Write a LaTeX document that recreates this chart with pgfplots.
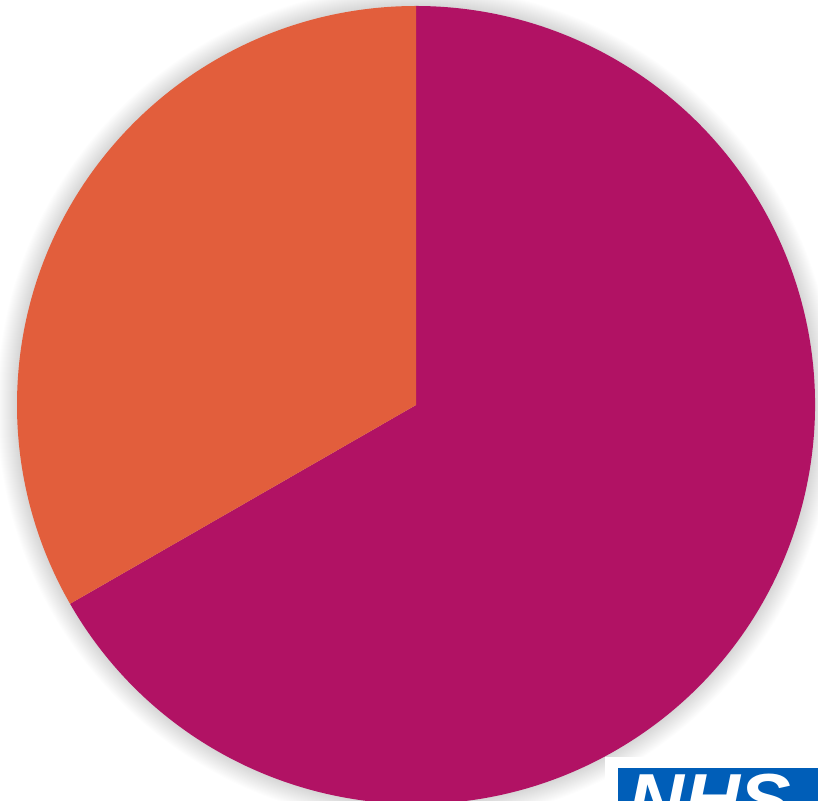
\documentclass[border=0pt]{standalone}
\usepackage{pgfplots}
\pgfplotsset{compat=1.18}
\usepackage{pgfplotstable}
\usepackage{fontspec}
\setmainfont{Liberation Sans}
\definecolor{sliceA}{RGB}{177,18,100}
\definecolor{sliceB}{RGB}{226,94,60}
\definecolor{nhsblue}{RGB}{0,94,184}
\pgfplotstableread{
label value
Magenta 66.7
Orange 33.3
}\piedata
\pgfplotstablegetelem{1}{value}\of\piedata
\pgfmathsetmacro{\orangeend}{90+3.6*\pgfplotsretval}
\begin{document}
\begin{tikzpicture}
\useasboundingbox (0,0) rectangle (818bp,801bp);
\clip (0,0) rectangle (818bp,801bp);
\begin{axis}[
  at={(0,0)}, anchor=south west,
  scale only axis, width=818bp, height=801bp,
  xmin=0, xmax=818, ymin=0, ymax=801,
  hide axis, clip=false]
\pgfplotsinvokeforeach{1,...,20}{
  \fill[black, opacity=0.008] (axis cs:416,396) circle[radius=399bp+#1bp];
}
\fill[sliceA] (axis cs:416,396) -- ++(\orangeend:399bp) arc[start angle=\orangeend, end angle=450, radius=399bp] -- cycle;
\fill[sliceB] (axis cs:416,396) -- ++(90:399bp) arc[start angle=90, end angle=\orangeend, radius=399bp] -- cycle;
\fill[white] (axis cs:605,-10) rectangle (axis cs:830,44);
\fill[nhsblue] (axis cs:618,-10) rectangle (axis cs:830,33);
\node[anchor=base west, text=white, font=\fontsize{74}{74}\selectfont\bfseries\itshape, inner sep=0pt, xscale=1.05] at (axis cs:628,-24) {NHS};
\end{axis}
\end{tikzpicture}
\end{document}
